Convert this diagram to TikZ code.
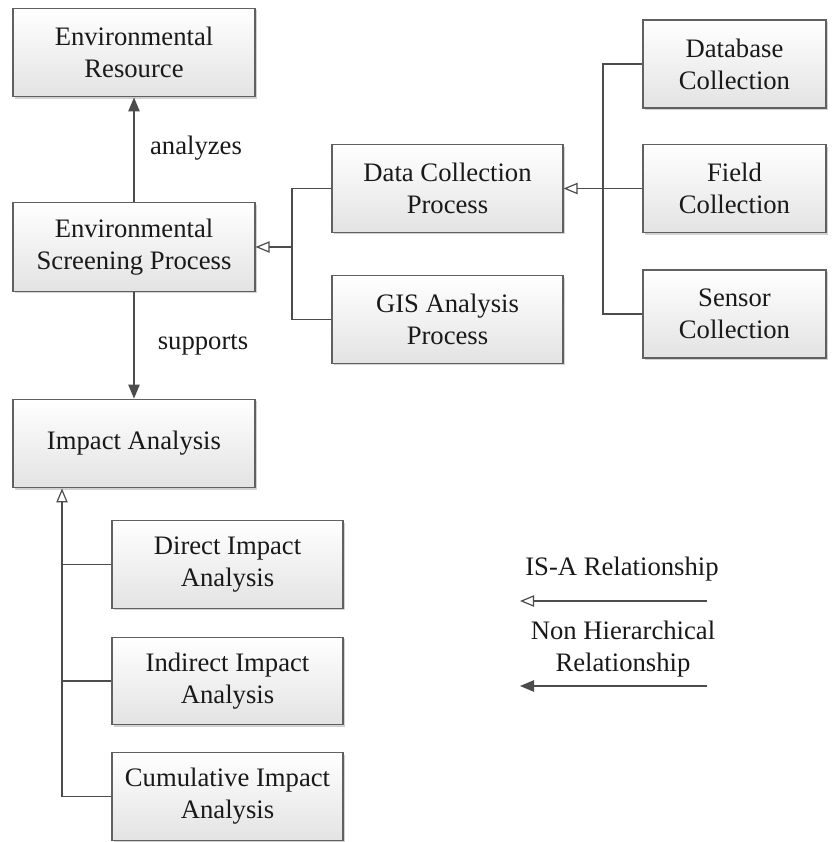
\documentclass[tikz,border=0pt]{standalone}
\usepackage{fontspec}
\setmainfont{Liberation Serif}
\usetikzlibrary{arrows.meta,shadows}

\tikzset{
  box/.style={draw=gray!75!black, line width=0.9pt, rectangle,
    top color=white, bottom color=gray!22,
    drop shadow={shadow xshift=1.6pt, shadow yshift=-1.6pt, opacity=0.35, fill=gray},
    inner sep=0pt, align=center, text=black!90,
    font=\fontsize{20}{24}\selectfont},
  widebox/.style={box, minimum width=181.5pt, minimum height=66.5pt},
  midbox/.style={box, minimum width=173.25pt, minimum height=65.5pt},
  narrowbox/.style={box, minimum width=137.25pt, minimum height=66pt},
  link/.style={draw=black!70, line width=1.1pt},
  isa/.style={link, -{Triangle[open, length=10.5pt, width=8.5pt, line width=0.9pt]}},
  rel/.style={link, -{Triangle[length=10.5pt, width=8.5pt]}},
  lbl/.style={font=\fontsize{20}{24}\selectfont, text=black!90, align=center, inner sep=0pt}
}

\begin{document}
\begin{tikzpicture}[x=0.75pt, y=-0.75pt]
  \useasboundingbox[fill=white] (0,0) rectangle (833,842);

  % left column
  \node[widebox] (envres) at (134,52.5) {Environmental\\Resource};
  \node[widebox] (screen) at (134,247) {Environmental\\Screening Process};
  \node[widebox] (impact) at (134,443.5) {Impact Analysis};

  % processes feeding the screening step
  \node[midbox] (datacol) at (447.5,188.5) {Data Collection\\Process};
  \node[midbox] (gis) at (447.5,319.5) {GIS Analysis\\Process};

  % kinds of data collection
  \node[narrowbox] (dbcol) at (734.5,64) {Database\\Collection};
  \node[narrowbox] (field) at (734.5,188.5) {Field\\Collection};
  \node[narrowbox] (sensor) at (734.5,314) {Sensor\\Collection};

  % kinds of impact analysis
  \node[midbox] (direct) at (227.5,564.5) {Direct Impact\\Analysis};
  \node[midbox] (indirect) at (227.5,681) {Indirect Impact\\Analysis};
  \node[midbox] (cumul) at (227.5,796.5) {Cumulative Impact\\Analysis};

  % junction points of the IS-A trees
  \coordinate (j1) at (292,247);
  \coordinate (j2) at (603,188.5);
  \coordinate (spine) at (62,0);

  % non hierarchical relations
  \draw[rel] (screen) -- (envres);
  \draw[rel] (screen) -- (impact);
  \node[lbl] (analyzes) at (196,148) {analyzes};
  \node[lbl] (supports) at (203,345) {supports};

  % IS-A: screening process
  \draw[link] (gis.west) -| (j1);
  \draw[isa] (datacol.west) -| (j1) -- (screen.east);

  % IS-A: data collection
  \draw[link] (dbcol.west) -| (j2);
  \draw[link] (sensor.west) -| (j2);
  \draw[isa] (field.west) -- (datacol.east);

  % IS-A: impact analysis
  \draw[link] (direct.west) -- (direct.west -| spine);
  \draw[link] (indirect.west) -- (indirect.west -| spine);
  \draw[isa] (cumul.west) -| (impact.south -| spine);

  % legend
  \node[lbl] (isalbl) at (622,569) {IS-A Relationship};
  \coordinate (isaA) at (707,601);
  \coordinate (isaB) at (520,601);
  \draw[isa] (isaA) -- (isaB);
  \node[lbl] (rellbl) at (623,649) {Non Hierarchical\\Relationship};
  \coordinate (relA) at (707,686);
  \coordinate (relB) at (520,686);
  \draw[rel] (relA) -- (relB);
\end{tikzpicture}
\end{document}
